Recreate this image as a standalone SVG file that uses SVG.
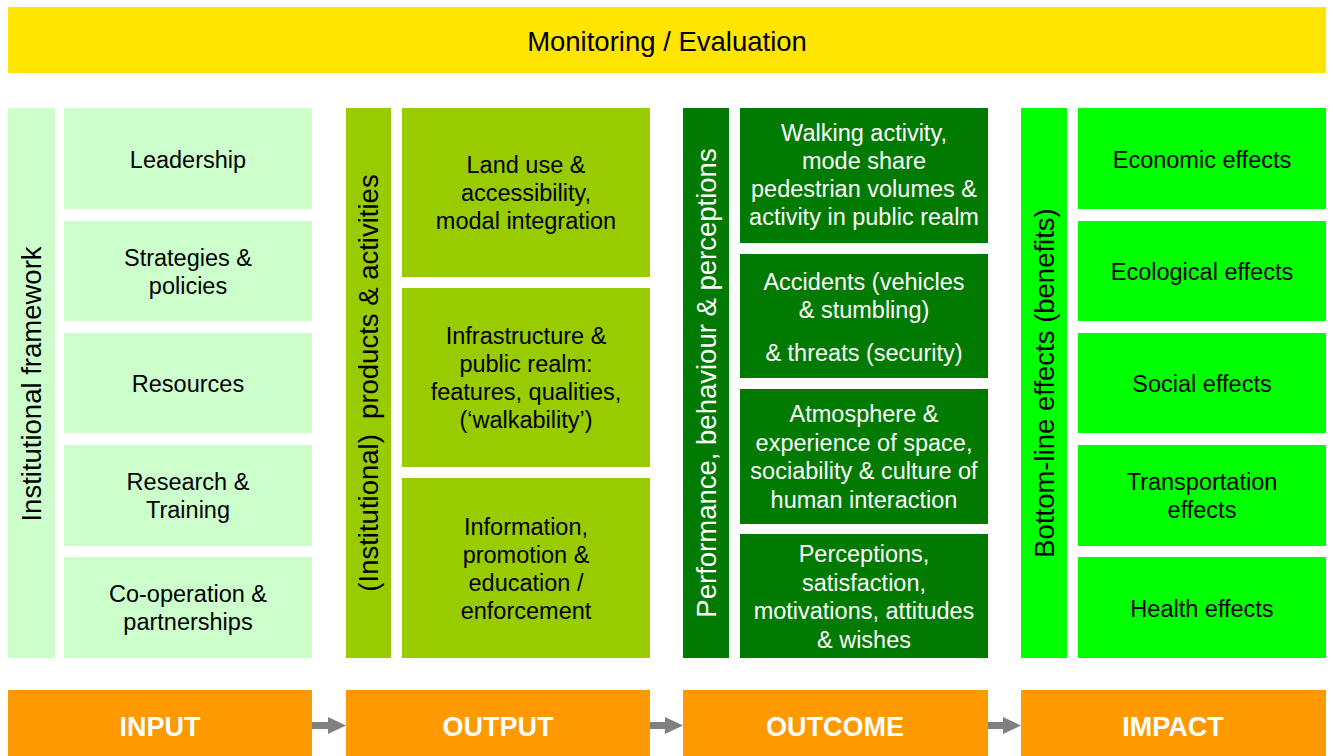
<svg xmlns="http://www.w3.org/2000/svg" width="1333" height="756" viewBox="0 0 1333 756">
<style>
text{font-family:"Liberation Sans",Arial,sans-serif;text-anchor:middle;fill:#000}
.c{font-size:23.5px}
.v{font-size:27.5px}
.h{font-size:27.5px}
.w{fill:#fff}
.lbl{font-size:27px;font-weight:bold;fill:#fff}
.yel{fill:#FFE500}
.lg{fill:#CCFFCC}
.yg{fill:#99CC00}
.dg{fill:#007A00}
.bg{fill:#00FF00}
.or{fill:#FF9900}
.arr{fill:#808080}
</style>
<rect width="1333" height="756" fill="#fff"/>
<g id="monitoring">
<rect class="yel" x="8" y="7" width="1318" height="66"/>
<text class="h" x="667" y="51">Monitoring / Evaluation</text>
</g>

<g id="col-input">
<g id="institutional-framework"><rect class="lg" x="8" y="108" width="47" height="550"/>
<text class="v" transform="translate(41,384) rotate(-90)">Institutional framework</text></g>
<g id="leadership"><rect class="lg" x="64" y="108" width="248" height="101"/><text class="c" x="188" y="168">Leadership</text></g>
<g id="strategies"><rect class="lg" x="64" y="221" width="248" height="100"/><text class="c" x="188" y="266">Strategies &amp;<tspan x="188" dy="28">policies</tspan></text></g>
<g id="resources"><rect class="lg" x="64" y="333" width="248" height="100"/><text class="c" x="188" y="392">Resources</text></g>
<g id="research"><rect class="lg" x="64" y="445" width="248" height="101"/><text class="c" x="188" y="490">Research &amp;<tspan x="188" dy="28">Training</tspan></text></g>
<g id="cooperation"><rect class="lg" x="64" y="557" width="248" height="101"/><text class="c" x="188" y="602">Co-operation &amp;<tspan x="188" dy="28">partnerships</tspan></text></g>
</g>

<g id="col-output">
<g id="products-activities"><rect class="yg" x="346" y="108" width="45" height="550"/>
<text class="v" transform="translate(378,383) rotate(-90)" xml:space="preserve">(Institutional)  products &amp; activities</text></g>
<g id="land-use"><rect class="yg" x="402" y="108" width="248" height="169"/><text class="c" x="526" y="173">Land use &amp;<tspan x="526" dy="28">accessibility,</tspan><tspan x="526" dy="28">modal integration</tspan></text></g>
<g id="infrastructure"><rect class="yg" x="402" y="288" width="248" height="179"/><text class="c" x="526" y="344">Infrastructure &amp;<tspan x="526" dy="28">public realm:</tspan><tspan x="526" dy="28">features, qualities,</tspan><tspan x="526" dy="28">(‘walkability’)</tspan></text></g>
<g id="information"><rect class="yg" x="402" y="478" width="248" height="180"/><text class="c" x="526" y="535">Information,<tspan x="526" dy="28">promotion &amp;</tspan><tspan x="526" dy="28">education /</tspan><tspan x="526" dy="28">enforcement</tspan></text></g>
</g>

<g id="col-outcome">
<g id="performance"><rect class="dg" x="683" y="108" width="46" height="550"/>
<text class="v w" transform="translate(716,383) rotate(-90)">Performance, behaviour &amp; perceptions</text></g>
<g id="walking"><rect class="dg" x="740" y="108" width="248" height="135"/><text class="c w" x="864" y="141">Walking activity,<tspan x="864" dy="28">mode share</tspan><tspan x="864" dy="28">pedestrian volumes &amp;</tspan><tspan x="864" dy="28">activity in public realm</tspan></text></g>
<g id="accidents"><rect class="dg" x="740" y="254" width="248" height="124"/><text class="c w" x="864" y="290">Accidents (vehicles<tspan x="864" dy="28">&amp; stumbling)</tspan><tspan x="864" dy="43">&amp; threats (security)</tspan></text></g>
<g id="atmosphere"><rect class="dg" x="740" y="389" width="248" height="135"/><text class="c w" x="864" y="422">Atmosphere &amp;<tspan x="864" dy="28.5">experience of space,</tspan><tspan x="864" dy="28.5">sociability &amp; culture of</tspan><tspan x="864" dy="28.5">human interaction</tspan></text></g>
<g id="perceptions"><rect class="dg" x="740" y="534" width="248" height="124"/><text class="c w" x="864" y="562">Perceptions,<tspan x="864" dy="28.5">satisfaction,</tspan><tspan x="864" dy="28.5">motivations, attitudes</tspan><tspan x="864" dy="28.5">&amp; wishes</tspan></text></g>
</g>

<g id="col-impact">
<g id="bottom-line"><rect class="bg" x="1021" y="108" width="46" height="550"/>
<text class="v" transform="translate(1054,383) rotate(-90)">Bottom-line effects (benefits)</text></g>
<g id="economic"><rect class="bg" x="1078" y="108" width="248" height="101"/><text class="c" x="1202" y="168">Economic effects</text></g>
<g id="ecological"><rect class="bg" x="1078" y="221" width="248" height="100"/><text class="c" x="1202" y="280">Ecological effects</text></g>
<g id="social"><rect class="bg" x="1078" y="333" width="248" height="100"/><text class="c" x="1202" y="392">Social effects</text></g>
<g id="transportation"><rect class="bg" x="1078" y="445" width="248" height="101"/><text class="c" x="1202" y="490">Transportation<tspan x="1202" dy="28">effects</tspan></text></g>
<g id="health"><rect class="bg" x="1078" y="557" width="248" height="101"/><text class="c" x="1202" y="617">Health effects</text></g>
</g>

<g id="input"><rect class="or" x="8" y="690" width="304" height="66"/><text class="lbl" x="160" y="736">INPUT</text></g>
<g id="output"><rect class="or" x="346" y="690" width="304" height="66"/><text class="lbl" x="498" y="736">OUTPUT</text></g>
<g id="outcome"><rect class="or" x="683" y="690" width="305" height="66"/><text class="lbl" x="835" y="736">OUTCOME</text></g>
<g id="impact"><rect class="or" x="1021" y="690" width="305" height="66"/><text class="lbl" x="1173" y="736">IMPACT</text></g>

<g id="connectors">
<path class="arr" d="M312,722 H328 V717 L346,725.5 L328,734 V729 H312 Z"/>
<path class="arr" d="M650,722 H665 V717 L683,725.5 L665,734 V729 H650 Z"/>
<path class="arr" d="M988,722 H1003 V717 L1021,725.5 L1003,734 V729 H988 Z"/>
</g>
</svg>
